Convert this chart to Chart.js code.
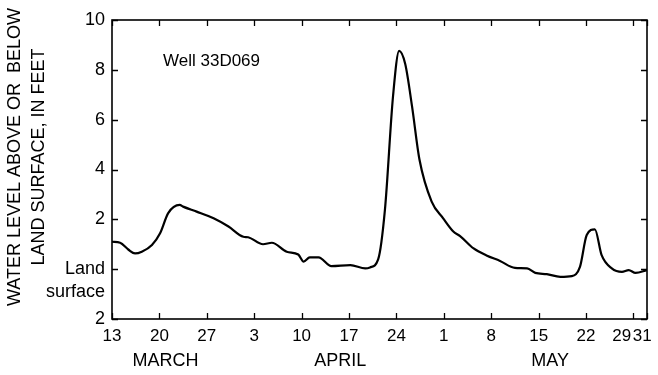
<!DOCTYPE html>
<html><head><meta charset="utf-8">
<script src="https://cdn.jsdelivr.net/npm/chart.js@4.4.1/dist/chart.umd.min.js"></script>
<style>html,body{margin:0;padding:0;background:#fff}#wrap{width:658px;height:375px;position:relative}</style>
</head><body><div id="wrap"><canvas id="c"></canvas></div>
<script>
// Day 0 = March 13, day 79 = May 31
const days = [0,1.2,2.4,3.4,4.4,5.9,7.1,8.3,10,10.5,12.5,15,17.2,19.4,20.1,22.3,23.6,25.8,27.5,28.3,29.2,30.5,32.4,35.2,37.4,38.1,39.3,40.3,41.5,42.4,43.3,44.3,45.4,47.2,48.9,50.4,51.4,53.4,55.3,57.3,59.5,61.3,62.5,64.2,66.2,67.9,69.1,70.1,71.3,72.3,73.8,75.3,76.3,77.3,79];
const levels = [1.10,1.06,0.79,0.63,0.70,0.97,1.44,2.25,2.58,2.51,2.31,2.04,1.71,1.30,1.28,1.00,1.06,0.70,0.59,0.30,0.47,0.47,0.12,0.16,0.03,0.07,0.39,2.38,6.95,8.76,8.23,6.54,4.40,2.71,2.04,1.51,1.33,0.83,0.55,0.33,0.05,0.03,-0.15,-0.20,-0.31,-0.28,0.09,1.37,1.60,0.56,0.03,-0.11,-0.04,-0.15,-0.04];
const xTickDays = [0,7,14,21,28,35,42,49,56,63,70,77,79];
const xTickLabels = ['13','20','27','3','10','17','24','1','8','15','22','29     ','31  '];
const yTickValues = [-2,0,2,4,6,8,10];
const yTickLabels = ['2',['','Land','surface'],'2','4','6','8','10'];
const months = ['MARCH','APRIL','MAY'];
const monthCenters = [7.9,33.7,64.7];
const wellLabel = 'Well 33D069';
const yTitle = ['     WATER LEVEL ABOVE OR  BELOW','     LAND SURFACE, IN FEET'];

const FONT = "'Liberation Sans', Arial, Helvetica, sans-serif";

const frame = {
  id: 'frame',
  afterDraw(chart) {
    const {ctx, chartArea: a, scales} = chart;
    ctx.save();
    ctx.strokeStyle = '#000';
    ctx.lineWidth = 1.6;
    ctx.strokeRect(a.left, a.top, a.right - a.left, a.bottom - a.top);
    ctx.lineWidth = 1.3;
    const L = 6;
    ctx.beginPath();
    scales.x.ticks.forEach(t => {
      const px = Math.round(scales.x.getPixelForValue(t.value)) + 0.5;
      ctx.moveTo(px, a.bottom); ctx.lineTo(px, a.bottom - L);
      ctx.moveTo(px, a.top); ctx.lineTo(px, a.top + L);
    });
    scales.y.ticks.forEach(t => {
      const py = Math.round(scales.y.getPixelForValue(t.value)) + 0.5;
      ctx.moveTo(a.left, py); ctx.lineTo(a.left + L, py);
      ctx.moveTo(a.right, py); ctx.lineTo(a.right - L, py);
    });
    ctx.stroke();
    ctx.fillStyle = '#000';
    ctx.font = '18px ' + FONT;
    ctx.textAlign = 'center';
    ctx.textBaseline = 'middle';
    months.forEach((m, i) => ctx.fillText(m, scales.x.getPixelForValue(monthCenters[i]), 361));
    ctx.font = '17px ' + FONT;
    ctx.textAlign = 'left';
    ctx.fillText(wellLabel, 163, 61);
    ctx.restore();
  }
};

new Chart(document.getElementById('c'), {
  type: 'line',
  data: {
    datasets: [{
      data: days.map((d, i) => ({x: d, y: levels[i]})),
      borderColor: '#000',
      borderWidth: 2.2,
      pointRadius: 0,
      fill: false,
      cubicInterpolationMode: 'monotone'
    }]
  },
  options: {
    responsive: true,
    maintainAspectRatio: false,
    animation: false,
    layout: {padding: {top: 20, right: 11, left: 0, bottom: 0}},
    plugins: {legend: {display: false}, tooltip: {enabled: false}},
    scales: {
      x: {
        type: 'linear', min: 0, max: 79,
        afterBuildTicks: s => { s.ticks = xTickDays.map(v => ({value: v})); },
        afterFit: s => { s.height = 56; s.paddingLeft = 0; s.paddingRight = 0; },
        grid: {display: false, drawTicks: false},
        border: {display: false},
        ticks: {
          autoSkip: false, maxRotation: 0, padding: 7, color: '#000',
          font: {family: FONT, size: 17, lineHeight: 1.2},
          callback: v => { const i = xTickDays.indexOf(v); return i >= 0 ? xTickLabels[i] : ''; }
        }
      },
      y: {
        min: -2, max: 10,
        afterBuildTicks: s => { s.ticks = yTickValues.map(v => ({value: v})); },
        afterFit: s => { s.width = 112; },
        grid: {display: false, drawTicks: false},
        border: {display: false},
        ticks: {
          autoSkip: false, padding: 7, color: '#000',
          font: {family: FONT, size: 18, lineHeight: 1.25},
          callback: v => { const i = yTickValues.indexOf(v); return i >= 0 ? yTickLabels[i] : ''; }
        },
        title: {
          display: true, text: yTitle, color: '#000',
          font: {family: FONT, size: 18, lineHeight: 1.333},
          padding: {top: 3.5, bottom: 0}
        }
      }
    }
  },
  plugins: [frame]
});
</script></body></html>
